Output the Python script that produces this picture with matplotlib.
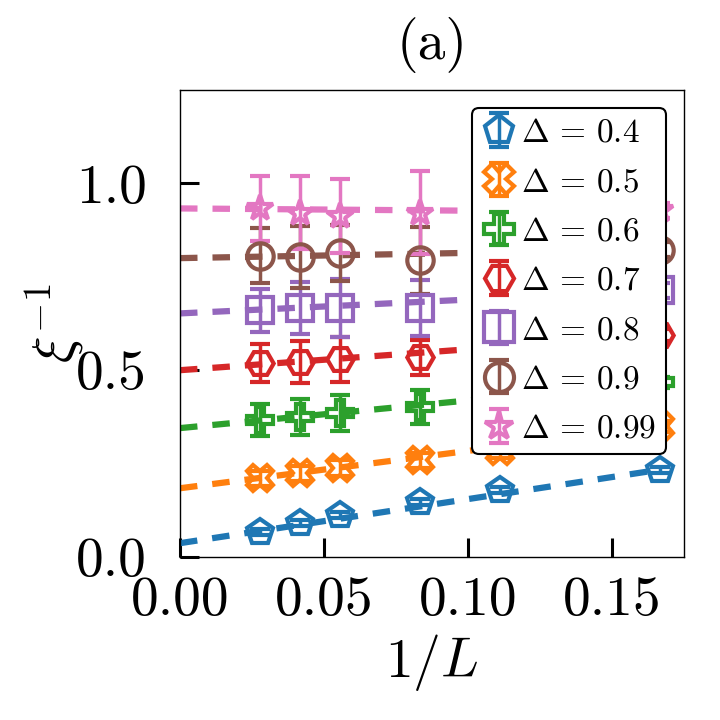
import matplotlib
matplotlib.use('Agg')
import matplotlib.pyplot as plt
import numpy as np

plt.rcParams['font.family'] = 'serif'
plt.rcParams['font.serif'] = ['cmr10']
plt.rcParams['mathtext.fontset'] = 'cm'
plt.rcParams['axes.formatter.use_mathtext'] = True

# system sizes L = 36, 24, 18, 12, 9, 6
L = np.array([36, 24, 18, 12, 9, 6])
inv_L = 1.0 / L

deltas = ['0.4', '0.5', '0.6', '0.7', '0.8', '0.9', '0.99']
markers = ['p', 'X', 'P', 'H', 's', 'o', '*']
colors = ['C0', 'C1', 'C2', 'C3', 'C4', 'C5', 'C6']

xi_inv = [
    [0.067, 0.090, 0.112, 0.147, 0.179, 0.233],
    [0.211, 0.224, 0.238, 0.259, 0.283, 0.350],
    [0.366, 0.375, 0.385, 0.401, 0.420, 0.468],
    [0.519, 0.522, 0.529, 0.535, 0.550, 0.594],
    [0.660, 0.666, 0.666, 0.666, 0.690, 0.714],
    [0.807, 0.802, 0.813, 0.794, 0.810, 0.823],
    [0.933, 0.922, 0.914, 0.922, 0.925, 0.928],
]
xi_err = [
    [0.008, 0.008, 0.008, 0.008, 0.008, 0.008],
    [0.020, 0.020, 0.022, 0.020, 0.018, 0.015],
    [0.043, 0.048, 0.048, 0.045, 0.030, 0.015],
    [0.050, 0.057, 0.060, 0.047, 0.030, 0.015],
    [0.058, 0.070, 0.078, 0.075, 0.040, 0.020],
    [0.074, 0.083, 0.075, 0.090, 0.050, 0.020],
    [0.086, 0.097, 0.099, 0.110, 0.060, 0.020],
]
# linear fits: intercept, slope
fit_b = [0.037, 0.184, 0.345, 0.500, 0.652, 0.800, 0.933]
fit_a = [1.18, 1.00, 0.74, 0.56, 0.37, 0.14, -0.06]

fig = plt.figure(figsize=(7.2, 7.2), dpi=100)
ax = fig.add_axes([0.25, 0.2264, 0.70, 0.6486])

xfit = np.array([0.0, 1.0 / 6])
for i in range(len(deltas)):
    ax.errorbar(inv_L, xi_inv[i], yerr=xi_err[i], fmt=markers[i], color=colors[i],
                mfc='none', mew=3, ms=19, elinewidth=2.5, capsize=7, capthick=2.5,
                label=r'$\Delta\,=\,%s$' % deltas[i])
    ax.plot(xfit, fit_b[i] + fit_a[i] * xfit, '--', color=colors[i], lw=4.5, dashes=(2.8, 2.4))

ax.set_xlim(0, 0.175)
ax.set_ylim(0, 1.25)
ax.set_xticks([0.0, 0.05, 0.10, 0.15])
ax.set_xticklabels(['0.00', '0.05', '0.10', '0.15'])
ax.set_yticks([0.0, 0.5, 1.0])
ax.set_yticklabels(['0.0', '0.5', '1.0'])
ax.tick_params(direction='in', length=14, width=2.2, labelsize=40)
ax.tick_params(axis='x', pad=14)
ax.tick_params(axis='y', pad=24)
for s in ax.spines.values():
    s.set_linewidth(1.0)

ax.set_xlabel(r'$1/L$', fontsize=40, labelpad=4)
ax.set_ylabel(r'$\xi^{-1}$', fontsize=40, labelpad=-8)
ax.set_title('(a)', fontsize=40, pad=22)

leg = ax.legend(loc='upper right', fontsize=24, frameon=True, fancybox=True,
                framealpha=1, edgecolor='black', handletextpad=0.15, borderpad=0.3,
                labelspacing=0.6, handlelength=1.0, borderaxespad=0.55, markerscale=1.1)
leg.get_frame().set_linewidth(1.5)

fig.savefig('out.png', dpi=100)
